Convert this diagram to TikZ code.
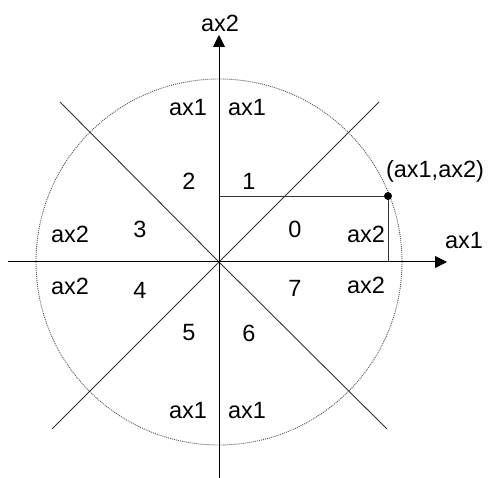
\documentclass[tikz,border=0pt]{standalone}
\usepackage{fontspec}
\setmainfont{Liberation Sans}
\usetikzlibrary{arrows.meta}
\begin{document}
\begin{tikzpicture}[x=1pt,y=-1pt,
  lbl/.style={inner sep=0pt,font=\fontsize{23.5}{27}\selectfont},
  axis/.style={line width=1pt,-{Triangle[length=12pt,width=12pt]}},
  ln/.style={line width=0.9pt,draw=black!80},
  circ/.style={line width=0.9pt,draw=black!65,dash pattern=on 1pt off 1pt}]
\useasboundingbox (0,0) rectangle (488,478);
% key points
\coordinate (O) at (219,262);
\coordinate (xs) at (8,262);
\coordinate (xe) at (447,262);
\coordinate (ys) at (219,478);
\coordinate (ye) at (219,35);
\coordinate (nw) at (60,102);
\coordinate (ne) at (379,102);
\coordinate (se) at (387,429);
\coordinate (sw) at (52,429);
\coordinate (P) at (388,196);
\coordinate (Py) at (219,196);
\coordinate (Px) at (388,262);
% circle
\draw[circ] (O) circle[radius=183];
% diagonals
\draw[ln] (nw) -- (O) -- (se);
\draw[ln] (sw) -- (O) -- (ne);
% projections
\draw[ln] (Py) -- (P) -- (Px);
% axes
\draw[axis] (xs) -- (xe);
\draw[axis] (ys) -- (ye);
% point
\fill (P) circle[radius=4];
% labels
\node[lbl] (lax2) at (220,23) {ax2};
\node[lbl] (lax1) at (464,241) {ax1};
\node[lbl] (lp) at (435,171) {(ax1,ax2)};
\node[lbl] (t1) at (188,108) {ax1};
\node[lbl] (t2) at (247,108) {ax1};
\node[lbl] (b1) at (188,411) {ax1};
\node[lbl] (b2) at (247,411) {ax1};
\node[lbl] (l1) at (70,234) {ax2};
\node[lbl] (l2) at (70,286) {ax2};
\node[lbl] (r1) at (366,234) {ax2};
\node[lbl] (r2) at (366,285) {ax2};
\node[lbl] (n0) at (295,229) {0};
\node[lbl] (n1) at (249,181) {1};
\node[lbl] (n2) at (189,181) {2};
\node[lbl] (n3) at (140,229) {3};
\node[lbl] (n4) at (140,290) {4};
\node[lbl] (n5) at (189,333) {5};
\node[lbl] (n6) at (249,333) {6};
\node[lbl] (n7) at (295,288) {7};
\end{tikzpicture}
\end{document}
